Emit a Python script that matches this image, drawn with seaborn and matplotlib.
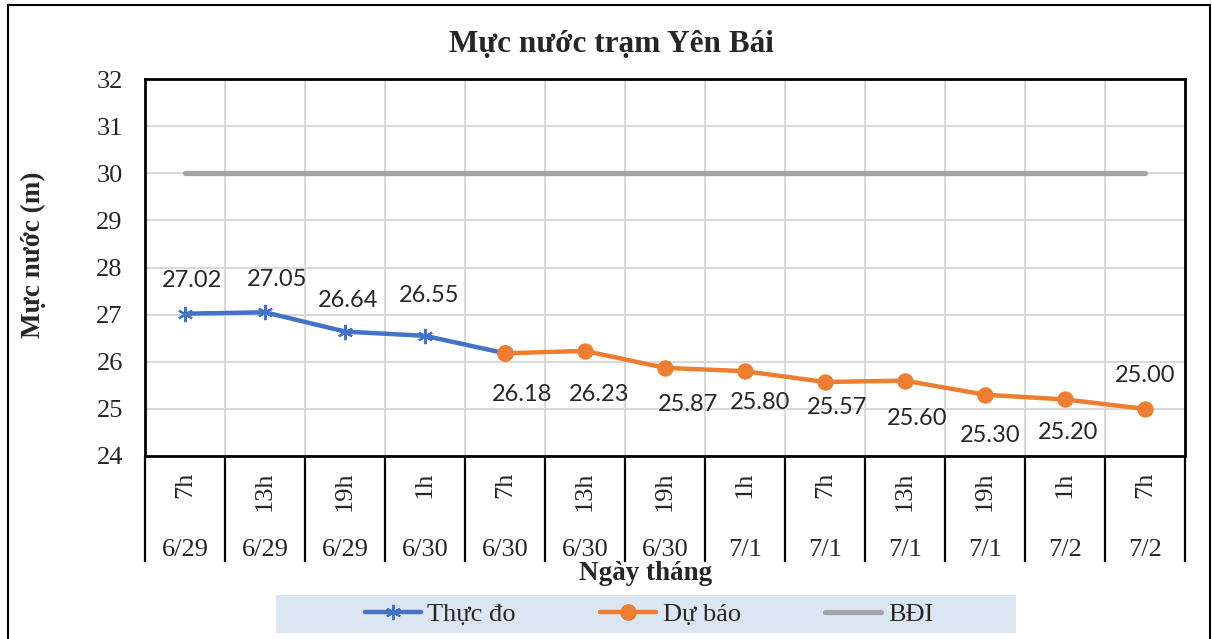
import numpy as np
import pandas as pd
import matplotlib
matplotlib.use('Agg')
import matplotlib.pyplot as plt
import seaborn as sns
from matplotlib.patches import Rectangle
from matplotlib.lines import Line2D

# ====== data ======
hours = ['7h', '13h', '19h', '1h', '7h', '13h', '19h', '1h', '7h', '13h', '19h', '1h', '7h']
dates = ['6/29', '6/29', '6/29', '6/30', '6/30', '6/30', '6/30', '7/1', '7/1', '7/1', '7/1', '7/2', '7/2']
thuc_do = [27.02, 27.05, 26.64, 26.55, 26.18, None, None, None, None, None, None, None, None]
du_bao = [None, None, None, None, 26.18, 26.23, 25.87, 25.80, 25.57, 25.60, 25.30, 25.20, 25.00]
bdi = [30, 30, 30, 30, 30, 30, 30, 30, 30, 30, 30, 30, 30]

# label nudges (pixels, right / down) as placed in the original chart
thuc_dx = [7, 12, 3, 4]
thuc_dy = [-33, -33, -31, -40]
bao_dx = [17, 14, 23, 15, 12, 12, 5, 3, 0]
bao_dy = [41, 44, 37, 31, 25, 38, 41, 33, -33]

df = pd.DataFrame({'idx': range(len(hours)), 'thuc_do': thuc_do, 'du_bao': du_bao, 'bdi': bdi})

sns.set_style('white')
plt.rcParams['font.family'] = ['Liberation Serif', 'DejaVu Serif']

blue = '#4472C4'
orange = '#ED7D31'
gray = '#A5A5A5'

fig = plt.figure(figsize=(12.12, 6.39), dpi=100)
W, H = 1212, 639
ax = fig.add_axes([145 / W, 1 - 456 / H, 1040 / W, 377 / H])

# outer chart border
fig.patches.append(Rectangle((8 / W, -0.05), 1202 / W, 1.05 - 5 / H, transform=fig.transFigure,
                             fill=False, edgecolor='black', linewidth=1.5))

sns.lineplot(data=df, x='idx', y='bdi', ax=ax, color=gray, linewidth=3.8, solid_capstyle='round')
sns.lineplot(data=df.dropna(subset=['du_bao']), x='idx', y='du_bao', ax=ax, color=orange, linewidth=3.2,
             marker='o', markersize=11, markeredgecolor=orange)
sns.lineplot(data=df.dropna(subset=['thuc_do']), x='idx', y='thuc_do', ax=ax, color=blue, linewidth=3.2,
             marker=(6, 2, 0), markersize=11, markeredgewidth=1.5, markeredgecolor=blue)
# orange dot on top at the shared point
d = df.dropna(subset=['du_bao', 'thuc_do'])
ax.plot(d['idx'], d['du_bao'], 'o', color=orange, markersize=11, zorder=5)

# data labels
lab_font = dict(family=['Lato', 'DejaVu Sans'], fontsize=17, ha='center', va='center')
k = 0
for i, v in enumerate(thuc_do):
    if v is not None and du_bao[i] is None:
        ax.annotate(f'{v:.2f}', (i, v), xytext=(thuc_dx[k], -thuc_dy[k]), textcoords='offset pixels', **lab_font)
        k += 1
k = 0
for i, v in enumerate(du_bao):
    if v is None:
        continue
    ax.annotate(f'{v:.2f}', (i, v), xytext=(bao_dx[k], -bao_dy[k]), textcoords='offset pixels', **lab_font)
    k += 1

ax.set_xlim(-0.5, len(hours) - 0.5)
ax.set_ylim(24, 32)
ax.set_yticks(range(24, 33))
ax.tick_params(axis='y', length=0, labelsize=19, pad=16)
ax.set_xticks(range(len(hours)))
ax.set_xticklabels([])
ax.tick_params(axis='x', which='major', length=0)
ax.set_xticks(np.arange(-0.5, len(hours), 1), minor=True)
ax.tick_params(axis='x', which='minor', bottom=True, length=76, width=1.6, color='black', direction='out')
ax.grid(True, which='minor', axis='x', color='#d9d9d9', linewidth=1.5)
ax.grid(True, which='major', axis='y', color='#d9d9d9', linewidth=1.5)
ax.set_axisbelow(True)
for s in ax.spines.values():
    s.set_color('black')
    s.set_linewidth(2)

# two-row category labels
for i, (h, dt) in enumerate(zip(hours, dates)):
    ax.text(i, -0.042, h, transform=ax.get_xaxis_transform(), rotation=90, ha='center', va='top', fontsize=19)
    ax.text(i, -0.265, dt, transform=ax.get_xaxis_transform(), ha='center', va='baseline', fontsize=19)

ax.set_xlabel('')
ax.set_ylabel('')
fig.text(33 / W, 1 - 255 / H, 'Mực nước (m)', rotation=90, ha='center', va='center', fontsize=19.5, fontweight='bold')
fig.text(646 / W, 1 - 573 / H, 'Ngày tháng', ha='center', va='center', fontsize=19.5, fontweight='bold')
fig.text(611 / W, 1 - 44 / H, 'Mực nước trạm Yên Bái', ha='center', va='center', fontsize=22.5, fontweight='bold')

# legend on a light blue band
fig.patches.append(Rectangle((276 / W, 1 - 633 / H), 740 / W, 38 / H, transform=fig.transFigure,
                             facecolor='#dce6f2', edgecolor='none', zorder=0))
handles = [
    Line2D([], [], color=blue, linewidth=3.2, marker=(6, 2, 0), markersize=11, markeredgewidth=1.5),
    Line2D([], [], color=orange, linewidth=3.2, marker='o', markersize=11),
    Line2D([], [], color=gray, linewidth=3.8),
]
fig.legend(handles, ['Thực đo', 'Dự báo', 'BĐI'], loc='center', bbox_to_anchor=(649 / W, 1 - 614 / H),
           ncol=3, fontsize=19, frameon=False, handlelength=2.12, handletextpad=0.25, columnspacing=3.2,
           borderpad=0, borderaxespad=0)

fig.savefig('out.png', dpi=100)
